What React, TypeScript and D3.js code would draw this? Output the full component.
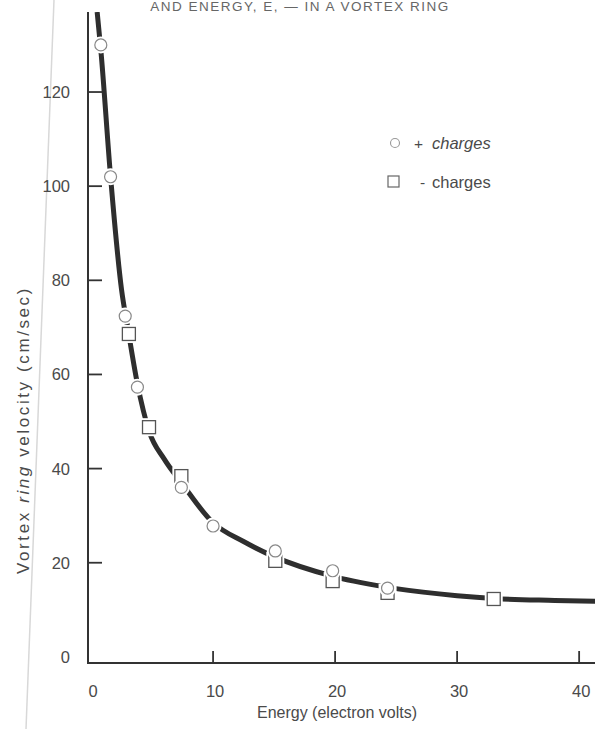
import React from "react";
import * as d3 from "d3";

// + charges (circles)
const plusEnergy = [0.8, 1.6, 2.8, 3.8, 7.4, 10, 15.1, 19.8, 24.3];
const plusVelocity = [130, 102, 72.4, 57.3, 36, 27.8, 22.5, 18.3, 14.6];
// - charges (squares)
const minusEnergy = [3.1, 4.75, 7.4, 15.1, 19.8, 24.3, 33];
const minusVelocity = [68.6, 48.8, 38.4, 20.4, 16.1, 13.6, 12.3];
// fitted curve
const curveEnergy = [0.5, 0.8, 1.6, 2.5, 3.0, 3.8, 4.75, 6, 7.4, 10, 12.5, 15, 20, 25, 30, 33, 38, 41.5];
const curveVelocity = [137, 129, 102, 78, 70, 58, 48, 42, 37, 28.5, 24.5, 21.3, 17, 14.5, 13, 12.4, 12, 11.8];

const xTicks = [0, 10, 20, 30, 40];
const yTicks = [0, 20, 40, 60, 80, 100, 120];

const W = 595;
const H = 729;

export default function App() {
  const x = d3.scaleLinear().domain([-0.25, 41.3]).range([88, 595]);
  const y = d3.scaleLinear().domain([-1.3, 137]).range([663, 12]);

  const curvePts: [number, number][] = curveEnergy.map((e, i) => [e, curveVelocity[i]]);
  const line = d3
    .line<[number, number]>()
    .x((d) => x(d[0]))
    .y((d) => y(d[1]))
    .curve(d3.curveMonotoneX);

  const plus = plusEnergy.map((e, i) => ({ e, v: plusVelocity[i] }));
  const minus = minusEnergy.map((e, i) => ({ e, v: minusVelocity[i] }));

  const font = "'Liberation Sans', Arial, sans-serif";
  const textColor = "#4a4a4a";
  const axisColor = "#333";

  const x0 = x.range()[0];
  const yBase = y.range()[0];
  const yTop = y.range()[1];

  return (
    <svg
      width={W}
      height={H}
      style={{ position: "absolute", left: 0, top: 0, background: "#fff" }}
      fontFamily={font}
    >
      <defs>
        <clipPath id="plotClip">
          <rect x={x0} y={yTop} width={W - x0} height={yBase - yTop} />
        </clipPath>
      </defs>

      {/* faint page edge from the scan */}
      <line x1={54} y1={0} x2={26} y2={H} stroke="#d8d8d8" strokeWidth={1.5} />

      {/* title, near the top edge */}
      <text
        x={300}
        y={11}
        textAnchor="middle"
        fontSize={13.5}
        fill="#666"
        letterSpacing={1.5}
      >
        AND ENERGY, E, — IN A VORTEX RING
      </text>

      {/* curve */}
      <g clipPath="url(#plotClip)">
        <path d={line(curvePts) || ""} fill="none" stroke="#2e2e2e" strokeWidth={5} strokeLinecap="butt" />
      </g>

      {/* axes */}
      <line x1={x0} y1={yTop} x2={x0} y2={yBase} stroke={axisColor} strokeWidth={2} />
      <line x1={x0 - 1} y1={yBase} x2={W} y2={yBase} stroke={axisColor} strokeWidth={2} />

      {xTicks.map((t) => (
        <g key={"xt" + t}>
          {t !== 0 && (
            <line x1={x(t)} x2={x(t)} y1={yBase} y2={yBase - 12} stroke={axisColor} strokeWidth={1.8} />
          )}
          <text x={x(t) + 2} y={yBase + 34} textAnchor="middle" fontSize={16.5} fill={textColor}>
            {t}
          </text>
        </g>
      ))}

      {yTicks.map((t) => (
        <g key={"yt" + t}>
          {t !== 0 && (
            <line x1={x0} x2={x0 + 14} y1={y(t)} y2={y(t)} stroke={axisColor} strokeWidth={1.8} />
          )}
          <text x={x0 - 18} y={y(t) + 6} textAnchor="end" fontSize={16.5} fill={textColor}>
            {t}
          </text>
        </g>
      ))}

      {/* data points: squares */}
      {minus.map((d, i) => (
        <g key={"m" + i}>
          <rect x={x(d.e) - 9} y={y(d.v) - 9} width={18} height={18} fill="#fff" />
          <rect
            x={x(d.e) - 6.5}
            y={y(d.v) - 6.5}
            width={13}
            height={13}
            fill="#fff"
            stroke="#555"
            strokeWidth={1.3}
          />
        </g>
      ))}
      {/* data points: circles */}
      {plus.map((d, i) => (
        <g key={"p" + i}>
          <circle cx={x(d.e)} cy={y(d.v)} r={8.5} fill="#fff" />
          <circle cx={x(d.e)} cy={y(d.v)} r={6} fill="#fff" stroke="#888" strokeWidth={1.2} />
        </g>
      ))}

      {/* legend */}
      <circle cx={395} cy={143} r={4.5} fill="#fff" stroke="#999" strokeWidth={1.1} />
      <text x={414} y={149} fontSize={15.5} fill={textColor}>
        +
      </text>
      <text x={432} y={149} fontSize={16.5} fill={textColor} fontStyle="italic">
        charges
      </text>
      <rect x={388} y={176} width={11} height={11} fill="#fff" stroke="#666" strokeWidth={1.2} />
      <text x={420} y={188} fontSize={15.5} fill={textColor}>
        -
      </text>
      <text x={432} y={188} fontSize={16.5} fill={textColor}>
        charges
      </text>

      {/* axis labels */}
      <text
        transform={`translate(29, ${430}) rotate(-90)`}
        textAnchor="middle"
        fontSize={17}
        fill={textColor}
        letterSpacing={2.6}
      >
        Vortex <tspan fontStyle="italic">ring</tspan> velocity (cm/sec)
      </text>
      <text x={337} y={718} textAnchor="middle" fontSize={16} fill={textColor}>
        Energy (electron volts)
      </text>
    </svg>
  );
}
